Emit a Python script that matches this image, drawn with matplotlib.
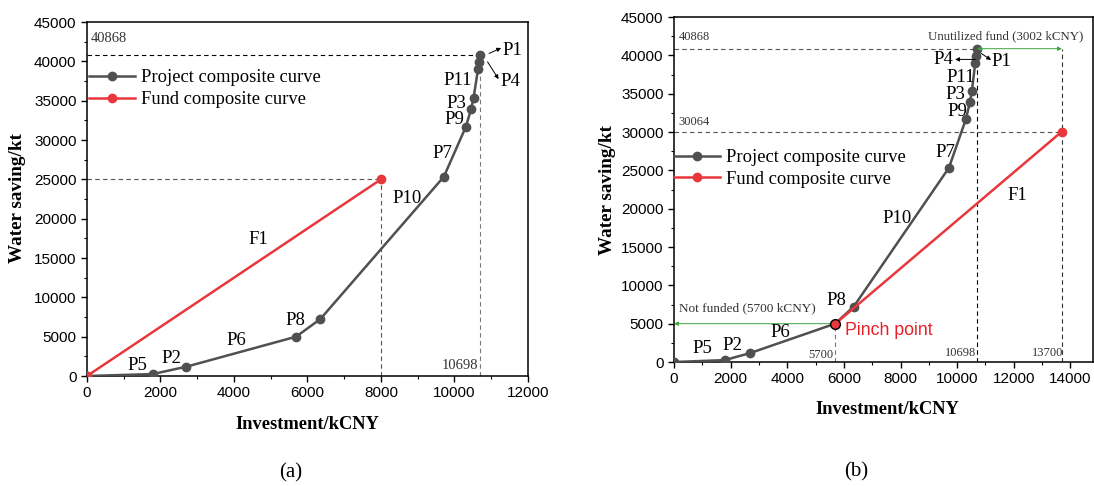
import matplotlib
matplotlib.use("Agg")
import matplotlib.pyplot as plt
from matplotlib.ticker import MultipleLocator

# project composite curve (cumulative investment, cumulative water saving)
proj_invest = [0, 1790, 2700, 5690, 6350, 9710, 10310, 10450, 10520, 10640, 10670, 10698]
proj_saving = [0, 250, 1180, 5000, 7240, 25330, 31680, 33880, 35360, 38970, 39860, 40868]
proj_names = ["P5", "P2", "P6", "P8", "P10", "P7", "P9", "P3", "P11", "P4", "P1"]

# fund composite curves
fund_a_invest = [0, 8000]
fund_a_saving = [0, 25000]
fund_b_invest = [5700, 13700]
fund_b_saving = [5000, 30064]

total_invest = 10698
total_saving = 40868
pinch = (5700, 5000)

SERIF = "Liberation Serif"
SANS = "Liberation Sans"
GREY = "#505050"
RED = "#e8383d"
GREEN = "#3da33d"

# label positions for project segments (panel a / panel b)
pos_a = {"P5": (1365, 1310), "P2": (2300, 2260), "P6": (4060, 4490), "P8": (5680, 7110),
         "P10": (8720, 22600), "P7": (9670, 28300), "P9": (10010, 32650),
         "P3": (10040, 34650), "P11": (10100, 37600)}
pos_b = {"P5": (1007, 1780), "P2": (2045, 2220), "P6": (3760, 3870), "P8": (5720, 8080),
         "P10": (7880, 18730), "P7": (9590, 27290), "P9": (10000, 32630),
         "P3": (9930, 34940), "P11": (10120, 37120)}


def style_axes(ax, xmax):
    ax.set_xlim(0, xmax)
    ax.set_ylim(0, 45000)
    ax.xaxis.set_major_locator(MultipleLocator(2000))
    ax.xaxis.set_minor_locator(MultipleLocator(1000))
    ax.yaxis.set_major_locator(MultipleLocator(5000))
    ax.yaxis.set_minor_locator(MultipleLocator(2500))
    ax.tick_params(which="major", direction="out", length=4, width=1, labelsize=11,
                   top=False, right=False)
    ax.tick_params(which="minor", direction="out", length=2.5, width=0.8,
                   top=False, right=False)
    for lab in ax.get_xticklabels() + ax.get_yticklabels():
        lab.set_fontfamily(SANS)
    for sp in ax.spines.values():
        sp.set_linewidth(1.1)
    ax.set_xlabel("Investment/kCNY", fontfamily=SERIF, fontweight="bold", fontsize=13.3)
    ax.set_ylabel("Water saving/kt", fontfamily=SERIF, fontweight="bold", fontsize=13.8)


def label(ax, txt, x, y, **kw):
    kw.setdefault("fontsize", 13.5)
    kw.setdefault("ha", "center")
    kw.setdefault("va", "center")
    ax.text(x, y, txt, fontfamily=SERIF, **kw)


def arrow(ax, x1, y1, x2, y2, color="black", style="-|>", lw=0.7):
    ax.annotate("", xy=(x2, y2), xytext=(x1, y1),
                arrowprops=dict(arrowstyle=style, color=color, lw=lw,
                                mutation_scale=6, shrinkA=0, shrinkB=0))


fig = plt.figure(figsize=(10.94, 4.86), dpi=100)
ax1 = fig.add_axes([0.0795, 0.2263, 0.4031, 0.7284])
ax2 = fig.add_axes([0.6161, 0.2551, 0.3830, 0.7099])

# ---------- panel (a) ----------
ax1.hlines(total_saving, 0, total_invest, color="black", lw=0.8, linestyles=(0, (4, 3)))
ax1.vlines(total_invest, 0, total_saving, color="#777777", lw=0.8, linestyles=(0, (4, 3)))
ax1.hlines(fund_a_saving[1], 0, fund_a_invest[1], color="#555555", lw=0.8, linestyles=(0, (4, 3)))
ax1.vlines(fund_a_invest[1], 0, fund_a_saving[1], color="#555555", lw=0.8, linestyles=(0, (4, 3)))

ax1.plot(proj_invest, proj_saving, color=GREY, lw=1.8, marker="o", ms=6,
         label="Project composite curve", zorder=3)
ax1.plot(fund_a_invest, fund_a_saving, color=RED, lw=1.8, marker="o", ms=6,
         label="Fund composite curve", zorder=4)

for name, (x, y) in pos_a.items():
    label(ax1, name, x, y)
label(ax1, "P1", 11300, 41420, ha="left")
label(ax1, "P4", 11260, 37480, ha="left")
arrow(ax1, 10940, 41000, 11270, 41700)
arrow(ax1, 10900, 39940, 11200, 37740)
label(ax1, "F1", 4670, 17400)
label(ax1, str(total_saving), 100, 42950, ha="left", fontsize=10.5, color="#333333")
label(ax1, str(total_invest), 10640, 1300, ha="right", fontsize=10.5, color="#333333")

style_axes(ax1, 12000)
ax1.xaxis.set_label_coords(0.499, -0.113)
ax1.yaxis.set_label_coords(-0.138, 0.503)
ax1.legend(loc="upper left", bbox_to_anchor=(0.005, 0.866), frameon=False,
           handlelength=2.5, handletextpad=0.3, labelspacing=0.25, borderpad=0,
           borderaxespad=0, prop=dict(family=SERIF, size=13.3))

# ---------- panel (b) ----------
ax2.hlines(total_saving, 0, total_invest, color="#555555", lw=0.8, linestyles=(0, (4, 3)))
ax2.hlines(fund_b_saving[1], 0, fund_b_invest[1], color="#555555", lw=0.8, linestyles=(0, (4, 3)))
ax2.vlines(total_invest, 0, total_saving, color="black", lw=0.8, linestyles=(0, (4, 3)))
ax2.vlines(fund_b_invest[1], 0, total_saving, color="#333333", lw=0.8, linestyles=(0, (4, 3)))
ax2.vlines(pinch[0], 0, pinch[1], color="#777777", lw=0.8, linestyles=(0, (4, 3)))

ax2.plot(proj_invest, proj_saving, color=GREY, lw=1.8, marker="o", ms=6,
         label="Project composite curve", zorder=3)
ax2.plot(fund_b_invest, fund_b_saving, color=RED, lw=1.8, marker="o", ms=6,
         markevery=[1], label="Fund composite curve", zorder=4)
ax2.plot([pinch[0]], [pinch[1]], "o", ms=7, mfc=RED, mec="black", mew=1.0, zorder=5)

arrow(ax2, total_invest, total_saving, fund_b_invest[1], total_saving, color=GREEN, style="<|-|>")
arrow(ax2, 0, pinch[1], pinch[0], pinch[1], color=GREEN, style="<|-|>")

for name, (x, y) in pos_b.items():
    label(ax2, name, x, y)
label(ax2, "P4", 9870, 39400, ha="right")
label(ax2, "P1", 11230, 39150, ha="left")
arrow(ax2, 10640, 39470, 9930, 39470)
arrow(ax2, 10850, 40250, 11200, 39400)
label(ax2, "F1", 12120, 21770)
label(ax2, "Unutilized fund (3002 kCNY)", 11720, 42550, fontsize=9.3, color="#333333")
label(ax2, "Not funded (5700 kCNY)", 2590, 7000, fontsize=9.5, color="#333333")
label(ax2, str(total_saving), 160, 42400, ha="left", fontsize=9, color="#333333")
label(ax2, str(fund_b_saving[1]), 160, 31330, ha="left", fontsize=9, color="#333333")
label(ax2, "5700", 5620, 900, ha="right", fontsize=9, color="#333333")
label(ax2, str(total_invest), 10120, 1130, fontsize=9, color="#333333")
label(ax2, "13700", 13180, 1130, fontsize=9, color="#333333")
ax2.text(6030, 4150, "Pinch point", fontfamily=SANS, fontsize=12.8, color="#e8202a",
         ha="left", va="center")

style_axes(ax2, 14800)
ax2.xaxis.set_label_coords(0.51, -0.113)
ax2.yaxis.set_label_coords(-0.138, 0.50)
ax2.legend(loc="upper left", bbox_to_anchor=(0.0, 0.617), frameon=False,
           handlelength=2.5, handletextpad=0.3, labelspacing=0.25, borderpad=0,
           borderaxespad=0, prop=dict(family=SERIF, size=13.3))

fig.text(291 / 1094, 1 - 473 / 486, "(a)", fontfamily=SERIF, fontsize=15, ha="center", va="center")
fig.text(856 / 1094, 1 - 472 / 486, "(b)", fontfamily=SERIF, fontsize=15, ha="center", va="center")

fig.savefig("out.png", dpi=100)
